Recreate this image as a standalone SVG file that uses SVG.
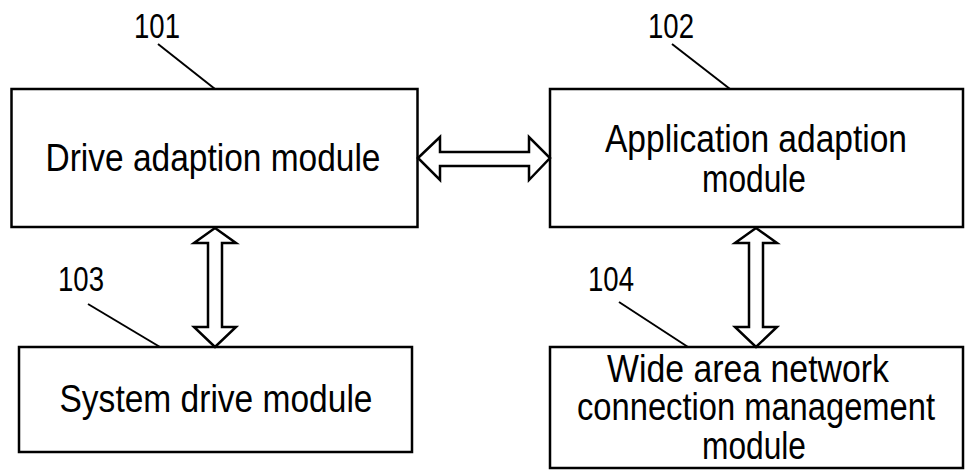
<svg xmlns="http://www.w3.org/2000/svg" width="968" height="475" viewBox="0 0 968 475">
<style>
.box{fill:#fff;stroke:#000;stroke-width:2.5}
.t{font-family:"Liberation Sans",Arial,sans-serif;font-size:38px;fill:#000;text-anchor:middle}
.n{font-family:"Liberation Sans",Arial,sans-serif;font-size:35px;fill:#000;text-anchor:middle}
.lead{stroke:#000;stroke-width:2;fill:none}
.arr{fill:#fff;stroke:#000;stroke-width:2.5;stroke-linejoin:miter}
</style>
<rect width="968" height="475" fill="#fff"/>
<g id="n101">
<rect class="box" x="11.5" y="89" width="406" height="138"/>
<text class="t" x="213" y="171" textLength="335" lengthAdjust="spacingAndGlyphs">Drive adaption module</text>
</g>
<g id="n102">
<rect class="box" x="550" y="89" width="413" height="138"/>
<text class="t" x="756" y="152" textLength="302" lengthAdjust="spacingAndGlyphs">Application adaption</text>
<text class="t" x="754" y="192" textLength="104" lengthAdjust="spacingAndGlyphs">module</text>
</g>
<g id="n103">
<rect class="box" x="19" y="347" width="393" height="105"/>
<text class="t" x="216" y="412" textLength="313" lengthAdjust="spacingAndGlyphs">System drive module</text>
</g>
<g id="n104">
<rect class="box" x="550" y="347" width="413" height="121"/>
<text class="t" x="748" y="382" textLength="282" lengthAdjust="spacingAndGlyphs">Wide area network</text>
<text class="t" x="756" y="420" textLength="358" lengthAdjust="spacingAndGlyphs">connection management</text>
<text class="t" x="754" y="459" textLength="104" lengthAdjust="spacingAndGlyphs">module</text>
</g>
<g id="labels">
<text class="n" x="157" y="38" textLength="46" lengthAdjust="spacingAndGlyphs">101</text>
<text class="n" x="671" y="38" textLength="46" lengthAdjust="spacingAndGlyphs">102</text>
<text class="n" x="81" y="291" textLength="46" lengthAdjust="spacingAndGlyphs">103</text>
<text class="n" x="611" y="291" textLength="46" lengthAdjust="spacingAndGlyphs">104</text>
<line class="lead" x1="158" y1="44" x2="215" y2="89"/>
<line class="lead" x1="672" y1="44" x2="730" y2="89"/>
<line class="lead" x1="88" y1="304" x2="160" y2="347"/>
<line class="lead" x1="619" y1="302" x2="688" y2="347"/>
</g>
<g id="connectors">
<polygon class="arr" points="418,158 440,137 440,152 529,152 529,137 550,158 529,180 529,166 440,166 440,180"/>
<polygon class="arr" points="215,228 236,243 222,243 222,327 236,327 215,347 194,327 208,327 208,243 194,243"/>
<polygon class="arr" points="756,228 777,243 763,243 763,327 777,327 756,347 735,327 749,327 749,243 735,243"/>
</g>
</svg>
